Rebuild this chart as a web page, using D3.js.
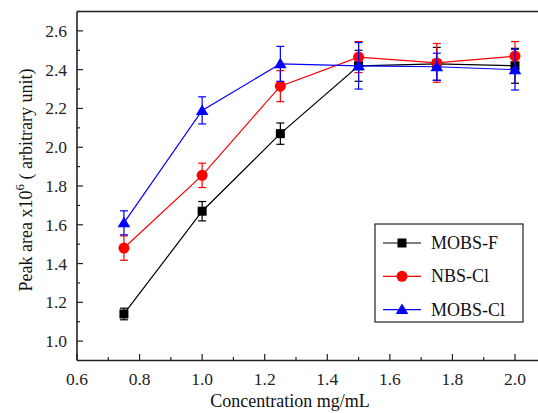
<!DOCTYPE html>
<html>
<head>
<meta charset="utf-8">
<script src="https://cdn.jsdelivr.net/npm/d3@7"></script>
<style>
  body { margin: 0; background: #fff; }
</style>
</head>
<body>
<svg id="chart" width="538" height="413" font-family="'Liberation Serif', serif"></svg>
<script>
// concentrations (mg/mL)
var conc = [0.75, 1.0, 1.25, 1.5, 1.75, 2.0];

var mobsF = [1.14, 1.67, 2.07, 2.42, 2.43, 2.42];
var mobsFErr = [0.03, 0.05, 0.055, 0.08, 0.085, 0.09];

var nbsCl = [1.48, 1.855, 2.315, 2.465, 2.435, 2.47];
var nbsClErr = [0.063, 0.063, 0.08, 0.08, 0.1, 0.075];

var mobsCl = [1.61, 2.19, 2.43, 2.42, 2.415, 2.40];
var mobsClErr = [0.062, 0.07, 0.09, 0.12, 0.07, 0.105];

var xTicks = [0.6, 0.8, 1.0, 1.2, 1.4, 1.6, 1.8, 2.0];
var yTicks = [1.0, 1.2, 1.4, 1.6, 1.8, 2.0, 2.2, 2.4, 2.6];

var series = [
  { name: "MOBS-F", values: mobsF, err: mobsFErr, color: "#000000", shape: "square" },
  { name: "NBS-Cl", values: nbsCl, err: nbsClErr, color: "#ff0000", shape: "circle" },
  { name: "MOBS-Cl", values: mobsCl, err: mobsClErr, color: "#0000ff", shape: "triangle" }
];

var svg = d3.select("#chart");
var width = 538, height = 413;

var x = d3.scaleLinear().domain([0.6, 2.0]).range([77, 515]);
var y = d3.scaleLinear().domain([0.9, 2.7]).range([360.5, 11.5]);

var g = svg.append("g");

// frame: left, bottom, top (right edge is cut off in the source)
g.append("line").attr("x1", 77).attr("x2", 77).attr("y1", 11.5).attr("y2", 360.5)
  .attr("stroke", "#222").attr("stroke-width", 1.6);
g.append("line").attr("x1", 77).attr("x2", width).attr("y1", 360.5).attr("y2", 360.5)
  .attr("stroke", "#222").attr("stroke-width", 1.6);
g.append("line").attr("x1", 77).attr("x2", width).attr("y1", 11.5).attr("y2", 11.5)
  .attr("stroke", "#222").attr("stroke-width", 1.6);

// x ticks (inward)
var xMinor = d3.range(0.7, 2.1, 0.2);
g.selectAll(".xmaj").data(xTicks).enter().append("line")
  .attr("x1", function(d) { return x(d); }).attr("x2", function(d) { return x(d); })
  .attr("y1", 360).attr("y2", 354).attr("stroke", "#222").attr("stroke-width", 1.2);
g.selectAll(".xmin").data(xMinor).enter().append("line")
  .attr("x1", function(d) { return x(d); }).attr("x2", function(d) { return x(d); })
  .attr("y1", 360).attr("y2", 357).attr("stroke", "#222").attr("stroke-width", 1.2);
g.selectAll(".xlab").data(xTicks).enter().append("text")
  .attr("x", function(d) { return x(d); }).attr("y", 385)
  .attr("text-anchor", "middle").attr("font-size", 17.5).attr("fill", "#222")
  .text(function(d) { return d.toFixed(1); });

// y ticks (inward)
var yMinor = d3.range(1.1, 2.75, 0.2);
g.selectAll(".ymaj").data(yTicks).enter().append("line")
  .attr("x1", 77).attr("x2", 83)
  .attr("y1", function(d) { return y(d); }).attr("y2", function(d) { return y(d); })
  .attr("stroke", "#222").attr("stroke-width", 1.2);
g.selectAll(".ymin").data(yMinor).enter().append("line")
  .attr("x1", 77).attr("x2", 80)
  .attr("y1", function(d) { return y(d); }).attr("y2", function(d) { return y(d); })
  .attr("stroke", "#222").attr("stroke-width", 1.2);
g.selectAll(".ylab").data(yTicks).enter().append("text")
  .attr("x", 67).attr("y", function(d) { return y(d) + 6; })
  .attr("text-anchor", "end").attr("font-size", 17.5).attr("fill", "#222")
  .text(function(d) { return d.toFixed(1); });

// axis titles
svg.append("text").attr("x", 290).attr("y", 407).attr("text-anchor", "middle")
  .attr("font-size", 18).attr("fill", "#111").text("Concentration mg/mL");

var yt = svg.append("text").attr("transform", "translate(32,180) rotate(-90)")
  .attr("text-anchor", "middle").attr("font-size", 18).attr("fill", "#111");
yt.append("tspan").text("Peak area x10");
yt.append("tspan").attr("dy", -8).attr("font-size", 13).text("6");
yt.append("tspan").attr("dy", 8).text(" ( arbitrary unit)");

function drawMarker(sel, shape, color, cx, cy) {
  if (shape === "square") {
    sel.append("rect").attr("x", cx - 4.5).attr("y", cy - 4.5)
      .attr("width", 9).attr("height", 9).attr("fill", color);
  } else if (shape === "circle") {
    sel.append("circle").attr("cx", cx).attr("cy", cy).attr("r", 5.5).attr("fill", color);
  } else {
    sel.append("path")
      .attr("d", "M" + cx + "," + (cy - 6) + "L" + (cx + 6.3) + "," + (cy + 4.5) + "L" + (cx - 6.3) + "," + (cy + 4.5) + "Z")
      .attr("fill", color);
  }
}

var line = d3.line()
  .x(function(d) { return x(d[0]); })
  .y(function(d) { return y(d[1]); });

series.forEach(function(s) {
  var sg = g.append("g");
  var pts = conc.map(function(c, i) { return [c, s.values[i], s.err[i]]; });

  sg.append("path").datum(pts).attr("d", line)
    .attr("fill", "none").attr("stroke", s.color).attr("stroke-width", 1.2);

  pts.forEach(function(p) {
    var cx = x(p[0]);
    var y1 = y(p[1] + p[2]), y2 = y(p[1] - p[2]);
    sg.append("line").attr("x1", cx).attr("x2", cx).attr("y1", y1).attr("y2", y2)
      .attr("stroke", s.color).attr("stroke-width", 1.2);
    [y1, y2].forEach(function(yy) {
      sg.append("line").attr("x1", cx - 4).attr("x2", cx + 4).attr("y1", yy).attr("y2", yy)
        .attr("stroke", s.color).attr("stroke-width", 1.2);
    });
    drawMarker(sg, s.shape, s.color, cx, y(p[1]));
  });
});

// legend
var lg = svg.append("g");
lg.append("rect").attr("x", 375).attr("y", 224).attr("width", 148).attr("height", 98)
  .attr("fill", "#fff").attr("stroke", "#222").attr("stroke-width", 1.2);
series.forEach(function(s, i) {
  var ly = 243 + i * 33.3;
  lg.append("line").attr("x1", 383).attr("x2", 421).attr("y1", ly).attr("y2", ly)
    .attr("stroke", s.color).attr("stroke-width", 1.2);
  drawMarker(lg, s.shape, s.color, 402, ly);
  lg.append("text").attr("x", 431).attr("y", ly + 6).attr("font-size", 18)
    .attr("fill", "#111").text(s.name);
});
</script>
</body>
</html>
